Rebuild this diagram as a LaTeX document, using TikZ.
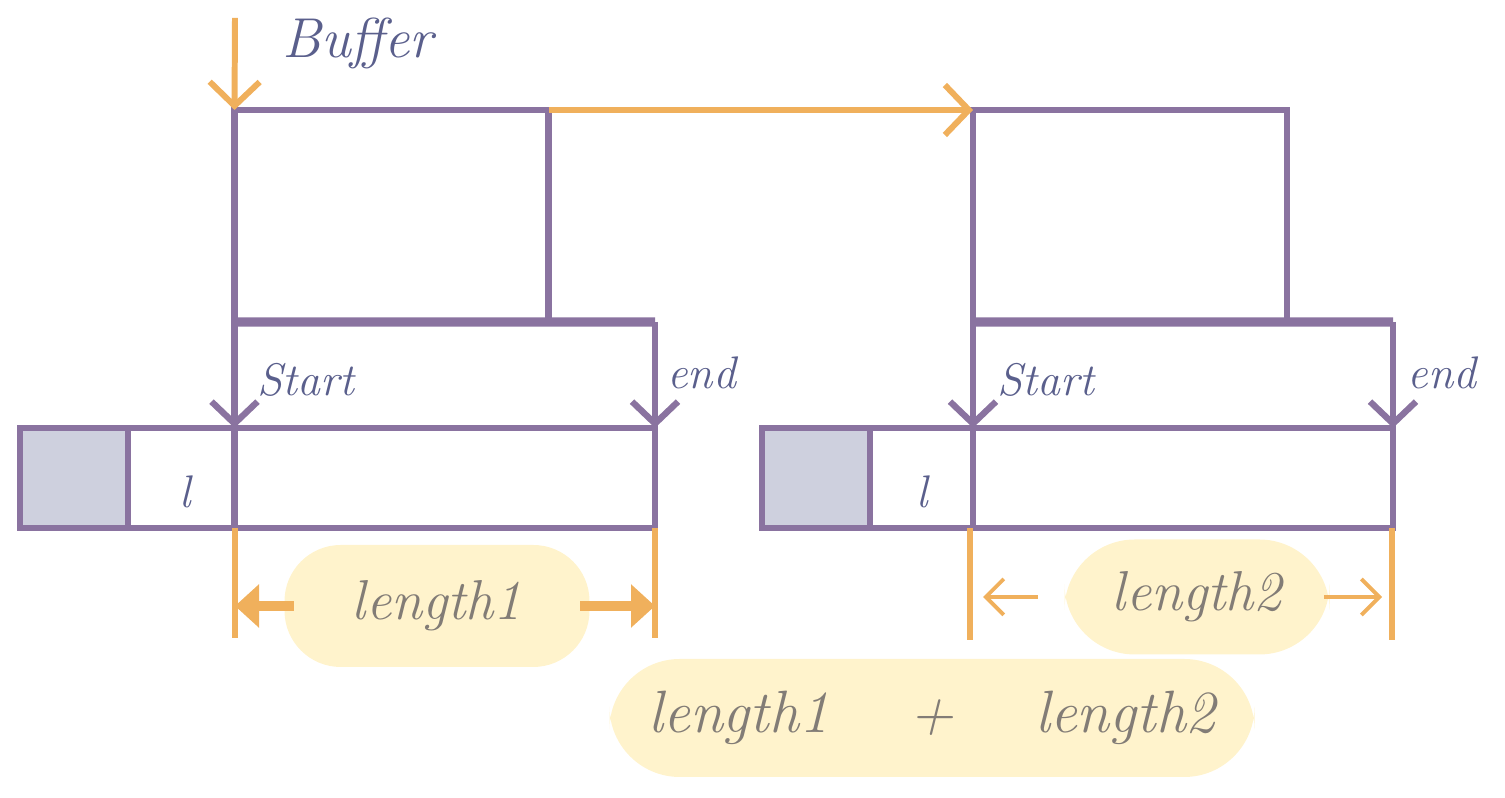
\documentclass[tikz,border=0pt]{standalone}
\usepackage{xcolor}
\usepackage{tikz}
\usetikzlibrary{positioning,arrows.meta,calc}
\definecolor{purp}{RGB}{138,115,160}
\definecolor{orng}{RGB}{240,176,92}
\definecolor{ink}{RGB}{90,95,140}
\definecolor{padyel}{RGB}{255,243,204}
\definecolor{cellgray}{RGB}{206,208,222}
\definecolor{pencil}{RGB}{130,124,118}
\tikzset{
  cell/.style   ={draw=purp, line width=1.8pt, rectangle, minimum height=2.12cm, minimum width=3.14cm, inner sep=0pt, outer sep=0pt},
  strip/.style  ={draw=purp, line width=1.8pt, rectangle, minimum height=1.0cm, minimum width=6.35cm, inner sep=0pt, outer sep=0pt},
  used/.style   ={draw=purp, fill=cellgray, line width=1.8pt, rectangle, minimum height=1.0cm, minimum width=1.08cm, inner sep=0pt, outer sep=0pt},
  bar/.style    ={draw=purp, line width=2.6pt},
  sep/.style    ={draw=purp, line width=1.8pt},
  ptr/.style    ={-{Straight Barb[length=2.2mm,width=4.6mm]}, draw=purp, line width=1.8pt},
  mv/.style     ={-{Straight Barb[length=2.4mm,width=5mm]}, draw=orng, line width=1.7pt},
  fatmv/.style  ={-{Triangle[length=2.4mm,width=4.2mm]}, draw=orng, fill=orng, line width=2.6pt},
  thinmv/.style ={-{Straight Barb[length=1.8mm,width=3.6mm]}, draw=orng, line width=1.1pt},
  dimln/.style  ={draw=orng, line width=1.6pt},
  padblob/.style={fill=padyel, rounded corners=16pt, text=pencil, inner sep=0pt, font=\fontsize{16}{16}\selectfont\itshape},
  tag/.style    ={text=ink, font=\fontsize{13}{13}\selectfont\itshape},
}

\begin{document}
\begin{tikzpicture}
  \useasboundingbox (0,0) rectangle (15.05,7.98);

  % buffers
  \node[cell] (bufA) at (3.915,5.82) {};
  \node[cell] (bufB) at (11.30,5.82) {};
  \node[tag, font=\fontsize{16}{16}\selectfont\itshape, anchor=west] (bufT) at (2.70,7.55) {Buffer};
  \coordinate (bufIn) at (2.35,7.80);
  \draw[mv] (bufIn) -- (bufA.north west);
  \draw[mv] (bufA.north east) -- (bufB.north west);

  \coordinate (endA) at (6.55,4.76);
  \coordinate (endB) at (13.93,4.76);
  \draw[bar] (bufA.south west) -- (endA);
  \draw[bar] (bufB.south west) -- (endB);

  % strips
  \node[strip] (stripA) at (3.375,3.20) {};
  \node[strip, minimum width=6.31cm] (stripB) at (10.775,3.20) {};
  \node[used, anchor=west] (usedA) at (stripA.west) {};
  \node[used, anchor=west] (usedB) at (stripB.west) {};
  \node[tag] (markA) at (1.85,3.06) {l};
  \node[tag] (markB) at (9.22,3.06) {l};
  \draw[sep] (bufA.south west |- stripA.north) -- (bufA.south west |- stripA.south);
  \draw[sep] (bufB.south west |- stripB.north) -- (bufB.south west |- stripB.south);

  % start / end pointers
  \draw[ptr] (bufA.south west) -- (bufA.south west |- stripA.north);
  \draw[ptr] (endA) -- (endA |- stripA.north);
  \draw[ptr] (bufB.south west) -- (bufB.south west |- stripB.north);
  \draw[ptr] (endB) -- (endB |- stripB.north);
  \node[tag, anchor=west] (startA) at (2.45,4.18) {Start};
  \node[tag, anchor=west] (finA) at (6.55,4.25) {end};
  \node[tag, anchor=west] (startB) at (9.85,4.18) {Start};
  \node[tag, anchor=west] (finB) at (13.95,4.25) {end};

  % lengths
  \coordinate (loA) at (2.35,1.60);
  \coordinate (hiA) at (6.55,1.60);
  \coordinate (loB) at (9.70,1.58);
  \coordinate (hiB) at (13.92,1.58);
  \draw[dimln] (loA |- stripA.south) -- (loA);
  \draw[dimln] (hiA |- stripA.south) -- (hiA);
  \draw[dimln] (loB |- stripB.south) -- (loB);
  \draw[dimln] (hiB |- stripB.south) -- (hiB);

  \node[padblob, minimum width=3.05cm, minimum height=1.22cm] (lenA) at (4.37,1.92) {length1};
  \node[padblob, minimum width=2.65cm, minimum height=1.15cm, rounded corners=20pt] (lenB) at (11.97,2.01) {length2};
  \draw[fatmv] ([xshift=1mm]lenA.west) -- (loA |- lenA.west);
  \draw[fatmv] ([xshift=-1mm]lenA.east) -- (hiA |- lenA.east);
  \draw[thinmv] ([xshift=-2.6mm]lenB.west) -- ([xshift=1.3mm]loB |- lenB.west);
  \draw[thinmv] ([xshift=-0.6mm]lenB.east) -- ([xshift=-1mm]hiB |- lenB.east);

  \node[padblob, minimum width=6.45cm, minimum height=1.18cm, rounded corners=20pt, font=\fontsize{17}{17}\selectfont\itshape] (lenSum) at (9.32,0.80) {length1 \quad + \quad length2};
\end{tikzpicture}
\end{document}
